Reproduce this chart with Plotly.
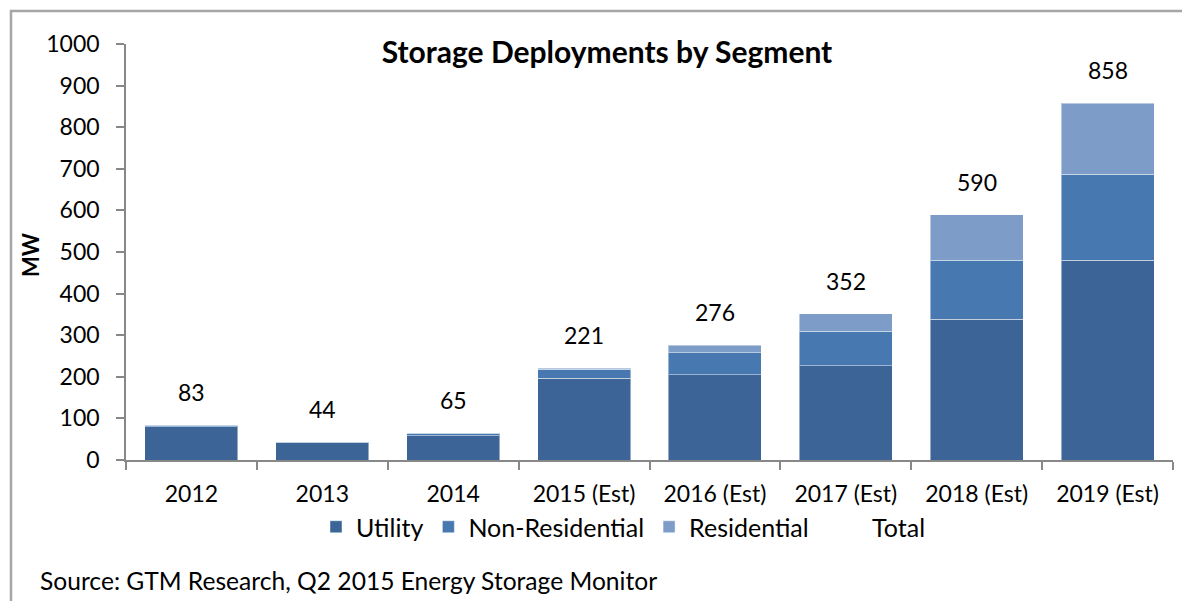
import plotly.graph_objects as go

categories = ["2012", "2013", "2014", "2015 (Est)", "2016 (Est)", "2017 (Est)", "2018 (Est)", "2019 (Est)"]
utility = [80, 43, 58, 197, 205, 226, 338, 480]
non_residential = [3, 1, 6, 21, 53, 83, 142, 207]
residential = [0, 0, 1, 3, 18, 43, 110, 171]
totals = [83, 44, 65, 221, 276, 352, 590, 858]
y_ticks = [0, 100, 200, 300, 400, 500, 600, 700, 800, 900, 1000]

FONT = "Lato"
OX, OY = 8, 8                      # page body margin offset
W, H = 1190 - OX, 601 - OY
PL, PR, PT, PB = 126, 1173, 44, 460  # plot area in window pixels
L, T = PL - OX, PT - OY
R, B = W - (PR - OX), H - (PB - OY)
pw, ph = PR - PL, PB - PT

def px_x(px):
    return (px - PL) / pw

def px_y(py):
    return (PB - py) / ph

fig = go.Figure()
edge = dict(color="rgba(255,255,255,0.45)", width=1)
fig.add_trace(go.Bar(x=categories, y=utility, name="Utility",
                     marker=dict(color="#3C6496", line=edge)))
fig.add_trace(go.Bar(x=categories, y=non_residential, name="Non-Residential",
                     marker=dict(color="#4878B0", line=edge)))
fig.add_trace(go.Bar(x=categories, y=residential, name="Residential",
                     marker=dict(color="#7E9CC8", line=edge)))
fig.add_trace(go.Scatter(x=categories, y=totals, name="&nbsp;&nbsp;&nbsp;Total", mode="lines",
                         line=dict(color="rgba(0,0,0,0)", width=0),
                         hoverinfo="skip"))

# category axis: annotation x given as category index
for i, t in enumerate(totals):
    fig.add_annotation(x=i, y=t, text=str(t), showarrow=False, yshift=33,
                       yanchor="middle", font=dict(family=FONT, size=23, color="#000"))

fig.add_annotation(x=px_x(30), y=px_y(255), xref="paper", yref="paper", text="<b>MW</b>",
                   textangle=-90, showarrow=False, xanchor="center", yanchor="middle",
                   font=dict(family=FONT, size=22, color="#000"))
fig.add_annotation(x=px_x(38), y=px_y(580), xref="paper", yref="paper",
                   text="Source: GTM Research, Q2 2015 Energy Storage Monitor",
                   showarrow=False, xanchor="left", yanchor="middle",
                   font=dict(family=FONT, size=24.6, color="#000"))

fig.add_shape(type="rect", xref="paper", yref="paper",
              x0=px_x(11), y0=px_y(11), x1=px_x(1260), y1=px_y(700),
              line=dict(color="#A6A6A6", width=2.5), fillcolor="rgba(0,0,0,0)", layer="below")

fig.update_layout(
    width=W, height=H,
    margin=dict(l=L, r=R, t=T, b=B, autoexpand=False),
    barmode="stack", bargap=0.29,
    plot_bgcolor="white", paper_bgcolor="white",
    title=dict(text="<b>Storage Deployments by Segment</b>", x=(607 - OX) / W, xanchor="center",
               y=1 - (52 - OY) / H, yanchor="middle", font=dict(family=FONT, size=30, color="#000")),
    font=dict(family=FONT, size=23, color="#000"),
    legend=dict(orientation="h", x=px_x(316), xanchor="left", y=px_y(527), yanchor="middle",
                font=dict(family=FONT, size=25, color="#000"), bgcolor="rgba(0,0,0,0)",
                traceorder="normal"),
    showlegend=True,
)
fig.update_xaxes(type="category", categoryorder="array", categoryarray=categories,
                 showline=True, linecolor="#888888", linewidth=1.5,
                 ticks="outside", tickson="boundaries", ticklen=8, tickcolor="#888888",
                 tickwidth=1.5, showgrid=False, tickangle=0, ticklabelstandoff=13,
                 tickfont=dict(family=FONT, size=23, color="#000"))
fig.update_yaxes(range=[0, 1000], tickvals=y_ticks, showline=True, linecolor="#888888",
                 linewidth=1.5, ticks="outside", ticklen=8, tickcolor="#888888", tickwidth=1.5,
                 showgrid=False, zeroline=False, ticklabelstandoff=12,
                 tickfont=dict(family=FONT, size=23, color="#000"))

fig.write_html("out.html")
